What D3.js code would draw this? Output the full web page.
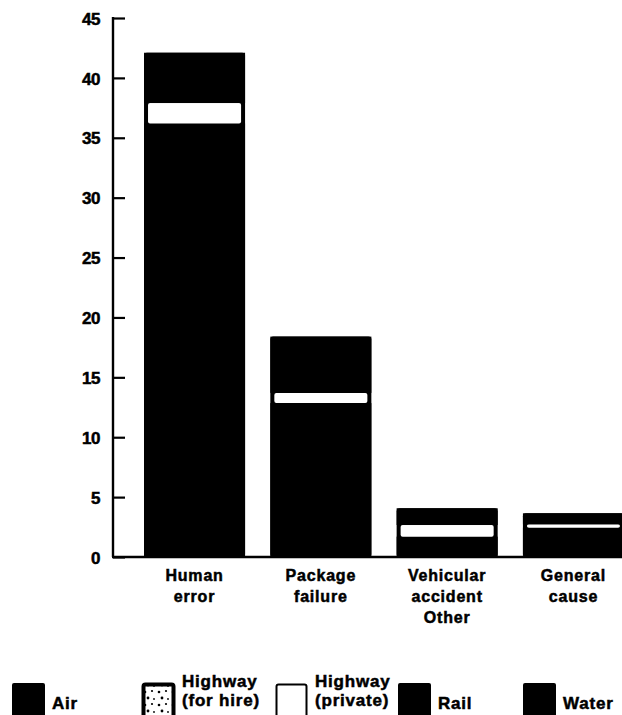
<!doctype html>
<html>

<head>
  <meta charset="utf-8">
  <title>Hazardous materials incidents by cause</title>
  <!-- Load d3.js -->
  <script src="https://d3js.org/d3.v7.min.js"></script>
  <style>
    body { margin: 0; background: #fff; }
    text { font-family: "Liberation Sans", Arial, sans-serif; font-weight: bold; fill: #000; stroke: #000; stroke-width: 0.5px; }
  </style>
</head>

<body>
  <div id="my_dataviz"></div>

  <script>

    // categories (one line of label per word)
    var categories = ["Human error", "Package failure", "Vehicular accident Other", "General cause"];

    // series values, stacked bottom to top
    var air = [0.3, 0.5, 0.05, 0.1];
    var highwayForHire = [35.9, 12.35, 1.65, 2.35];
    var highwayPrivate = [1.7, 0.85, 0.97, 0.28];
    var rail = [2.8, 3.5, 1.2, 0.7];
    var water = [1.4, 1.2, 0.2, 0.22];

    var seriesNames = ["Air", "Highway (for hire)", "Highway (private)", "Rail", "Water"];
    var yTicks = [0, 5, 10, 15, 20, 25, 30, 35, 40, 45];

    // build the table d3.stack wants
    var seriesValues = [air, highwayForHire, highwayPrivate, rail, water];
    var table = categories.map(function (c, i) {
      var row = { category: c };
      seriesNames.forEach(function (s, j) { row[s] = seriesValues[j][i]; });
      return row;
    });

    var width = 622, height = 715;

    var svg = d3.select("#my_dataviz")
      .append("svg")
      .attr("width", width)
      .attr("height", height);

    // legend pattern for highway (for hire)
    var pat = svg.append("defs").append("pattern")
      .attr("id", "speckle")
      .attr("patternUnits", "userSpaceOnUse")
      .attr("width", 14)
      .attr("height", 13);
    pat.append("rect").attr("width", 14).attr("height", 13).attr("fill", "#fff");
    [[3, 3, 1.3], [10, 2, 1.1], [6, 9, 1.4], [12, 10, 0.9]].forEach(function (d) {
      pat.append("circle").attr("cx", d[0]).attr("cy", d[1]).attr("r", d[2]).attr("fill", "#000");
    });

    // scales
    var y = d3.scaleLinear()
      .domain([0, 45])
      .range([557, 18]);

    var x = d3.scaleBand()
      .domain(categories)
      .range([131.4, 636.6])
      .paddingInner(0.2)
      .paddingOuter(0.1);

    var fills = { "Air": "#000", "Highway (for hire)": "#000", "Highway (private)": "#fff", "Rail": "#000", "Water": "#000" };
    var legendFills = { "Air": "#000", "Highway (for hire)": "url(#speckle)", "Highway (private)": "#fff", "Rail": "#000", "Water": "#000" };

    var stacked = d3.stack().keys(seriesNames)(table);
    var topLayer = stacked[stacked.length - 1];

    // black body of each bar
    svg.append("g")
      .selectAll("rect")
      .data(topLayer)
      .join("rect")
      .attr("x", function (d) { return x(d.data.category); })
      .attr("y", function (d) { return y(d[1]); })
      .attr("width", x.bandwidth())
      .attr("height", function (d) { return y(0) - y(d[1]); })
      .attr("rx", 3)
      .attr("fill", "#000");

    // stacked segments (white ones are inset a little)
    svg.append("g")
      .selectAll("g")
      .data(stacked)
      .join("g")
      .attr("fill", function (d) { return fills[d.key]; })
      .each(function (s) {
        var inset = fills[s.key] === "#fff" ? 4 : 0;
        d3.select(this).selectAll("rect")
          .data(s)
          .join("rect")
          .attr("x", function (d) { return x(d.data.category) + inset; })
          .attr("y", function (d) { return y(d[1]); })
          .attr("width", x.bandwidth() - 2 * inset)
          .attr("height", function (d) { return y(d[0]) - y(d[1]); })
          .attr("rx", inset ? 2 : 0);
      });

    // Y axis, ticks pointing into the plot
    var yAxis = svg.append("g")
      .attr("transform", "translate(113,0)")
      .call(d3.axisLeft(y).tickValues(yTicks).tickSize(-12).tickSizeOuter(0).tickPadding(13));
    yAxis.select(".domain").remove();
    yAxis.selectAll(".tick line").attr("stroke", "#000").attr("stroke-width", 2.2);
    yAxis.selectAll(".tick text")
      .attr("dy", "0.36em")
      .style("font-size", "17px")
      .style("font-family", "'Liberation Sans', Arial, sans-serif")
      .style("font-weight", "bold")
      .style("letter-spacing", "-0.5px");

    svg.append("line")
      .attr("x1", 113).attr("x2", 113)
      .attr("y1", y(45) - 1).attr("y2", y(0))
      .attr("stroke", "#000").attr("stroke-width", 2.4);

    // baseline
    svg.append("line")
      .attr("x1", 112).attr("x2", width)
      .attr("y1", y(0)).attr("y2", y(0))
      .attr("stroke", "#000").attr("stroke-width", 2.4);

    // category labels
    svg.append("g")
      .selectAll("text")
      .data(categories)
      .join("text")
      .attr("x", function (d) { return x(d) + x.bandwidth() / 2; })
      .attr("y", 581)
      .attr("text-anchor", "middle")
      .style("font-size", "16px")
      .style("letter-spacing", "0.8px")
      .each(function (d) {
        var t = d3.select(this);
        d.split(" ").forEach(function (w, i) {
          t.append("tspan")
            .attr("x", x(d) + x.bandwidth() / 2)
            .attr("dy", i === 0 ? 0 : 21)
            .text(w);
        });
      });

    // legend
    var legendBoxX = [12, 142, 275, 398, 523];
    var legend = svg.append("g")
      .selectAll("g")
      .data(seriesNames)
      .join("g")
      .attr("transform", function (d, i) { return "translate(" + legendBoxX[i] + ",0)"; });

    legend.append("rect")
      .attr("x", function (d) { return d === "Highway (for hire)" || d === "Highway (private)" ? 1.5 : 0; })
      .attr("y", function (d) { return d === "Highway (for hire)" || d === "Highway (private)" ? 684.5 : 683; })
      .attr("width", function (d) { return d === "Highway (for hire)" || d === "Highway (private)" ? 30 : 33; })
      .attr("height", 40)
      .attr("rx", 2)
      .attr("fill", function (d) { return legendFills[d]; })
      .attr("stroke", function (d) { return d === "Highway (for hire)" || d === "Highway (private)" ? "#000" : "none"; })
      .attr("stroke-width", function (d) { return d === "Highway (for hire)" ? 4 : 2; });

    legend.append("text")
      .attr("x", 40)
      .attr("y", 709)
      .style("font-size", "17px")
      .style("letter-spacing", "0.8px")
      .each(function (d) {
        var t = d3.select(this);
        var m = d.match(/^(\S+) (\(.*\))$/);
        if (m) {
          t.append("tspan").attr("x", 40).attr("y", 687).text(m[1]);
          t.append("tspan").attr("x", 40).attr("y", 706).text(m[2]);
        } else {
          t.text(d);
        }
      });

  </script>
</body>

</html>
